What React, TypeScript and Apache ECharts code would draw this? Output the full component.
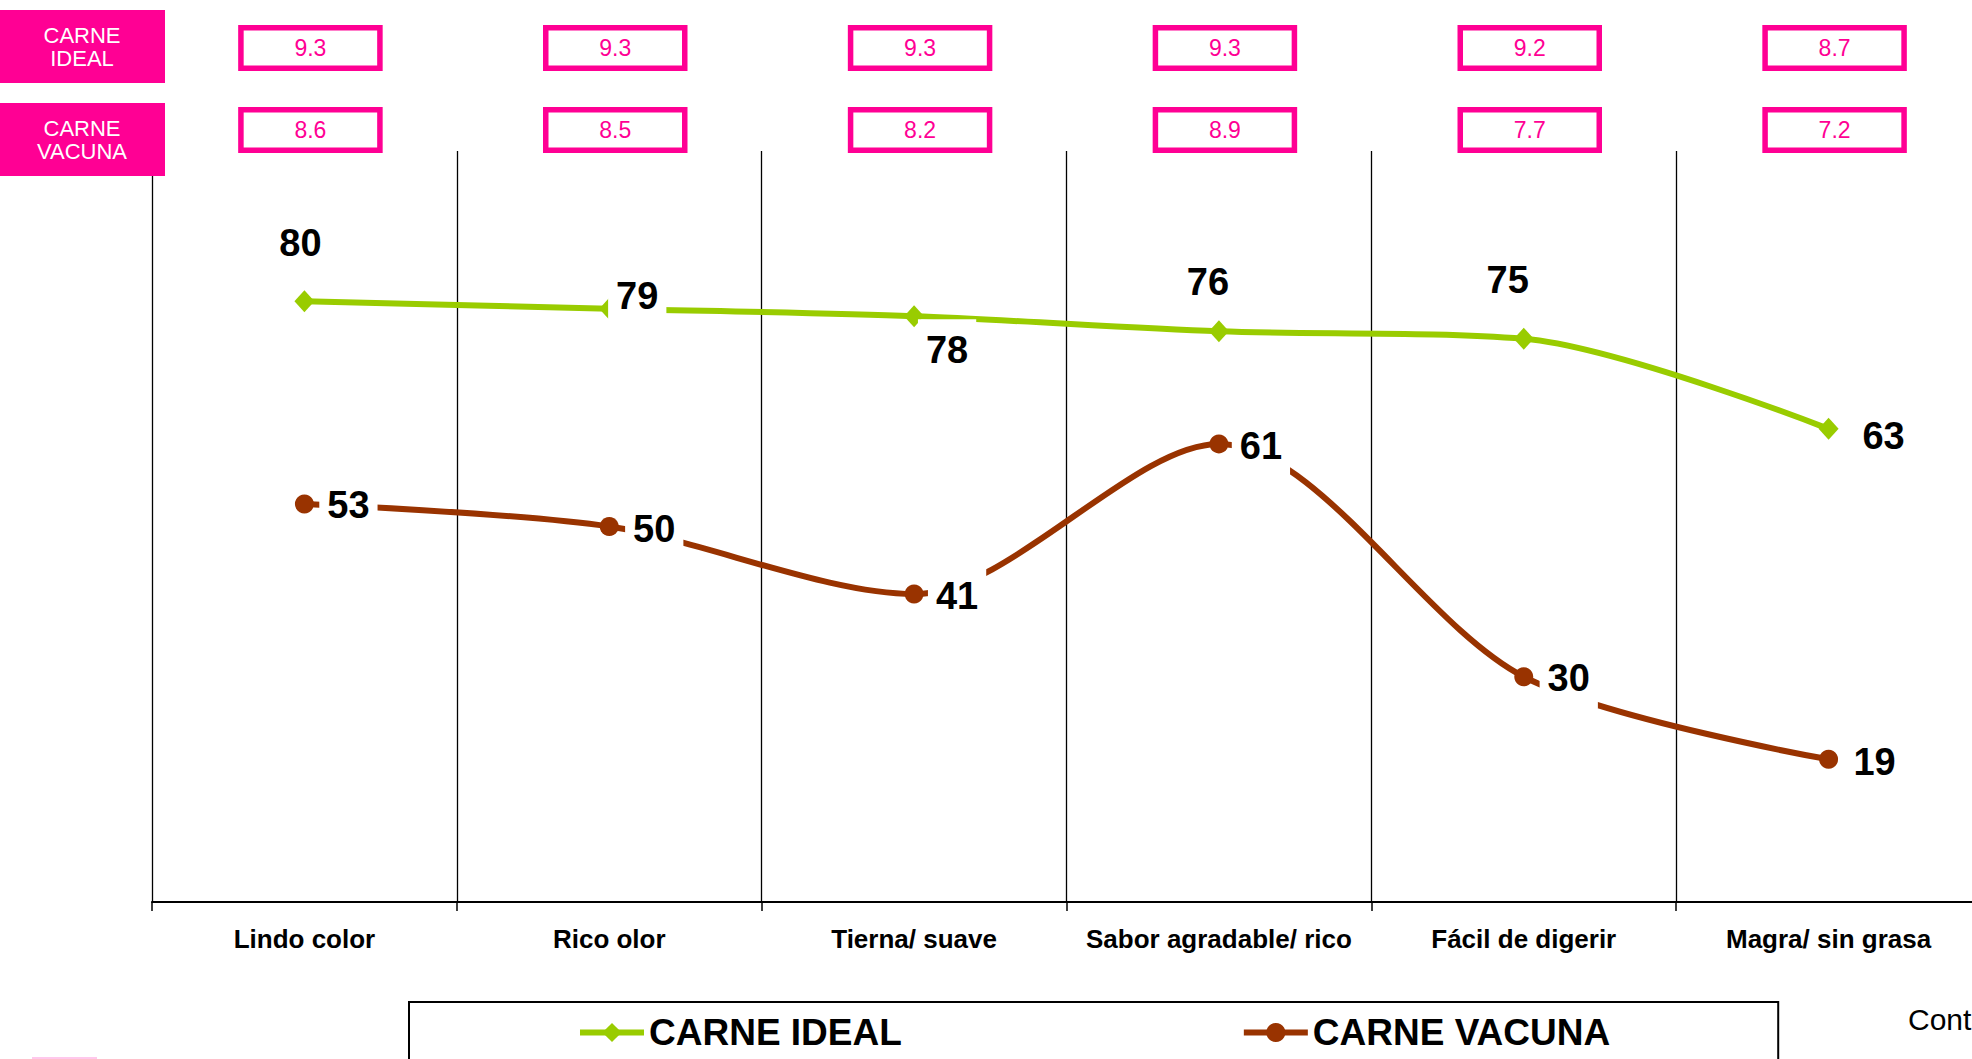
import React, { useEffect, useRef } from "react";
import * as echarts from "echarts";

const categories = ["Lindo color", "Rico olor", "Tierna/ suave", "Sabor agradable/ rico", "Fácil de digerir", "Magra/ sin grasa"];
const idealValues = [80, 79, 78, 76, 75, 63];
const vacunaValues = [53, 50, 41, 61, 30, 19];
const idealScores = ["9.3", "9.3", "9.3", "9.3", "9.2", "8.7"];
const vacunaScores = ["8.6", "8.5", "8.2", "8.9", "7.7", "7.2"];
const seriesNames = ["CARNE IDEAL", "CARNE VACUNA"];

// label placement offsets (styling, relative to each point)
const idealLabelOffsets = [[-4, -58], [28, -13], [33, 34], [-11, -49], [-16, -59], [55, 7]];
const vacunaLabelOffsets = [[44, 1], [45, 2], [43, 2], [42, 2], [45, 1], [46, 3]];

const FONT = "'Liberation Sans', Arial, sans-serif";
const PINK = "#FF0094";
const GREEN = "#99CC00";
const BROWN = "#993300";

export default function App() {
  const ref = useRef<HTMLDivElement>(null);
  useEffect(() => {
    document.body.style.margin = "0";
    const chart = echarts.init(ref.current!, null, { renderer: "svg" });
    const labelBase = {
      show: true,
      position: "inside",
      fontFamily: FONT,
      fontSize: 38,
      fontWeight: "bold",
      color: "#000",
      backgroundColor: "#fff",
      padding: [10, 8],
      lineHeight: 42,
    };
    const option: any = {
      animation: false,
      backgroundColor: "#fff",
      grid: { left: 152, top: 151, width: 1829, height: 751 },
      xAxis: {
        type: "category",
        data: categories,
        boundaryGap: true,
        axisLine: { show: true, lineStyle: { color: "#000", width: 2 } },
        axisTick: { show: true, interval: 0, length: 9, lineStyle: { color: "#000", width: 1.5 } },
        axisLabel: { interval: 0, fontFamily: FONT, fontSize: 26, fontWeight: "bold", color: "#000", margin: 24 },
        splitLine: { show: true, interval: 0, lineStyle: { color: "#000", width: 1.3 } },
      },
      yAxis: {
        type: "value",
        min: 0,
        max: 100,
        show: false,
        splitLine: { show: false },
      },
      legend: {
        left: 409,
        top: 1002,
        padding: [12, 168, 40, 168],
        borderColor: "#000",
        borderWidth: 2,
        itemGap: 339,
        itemWidth: 64,
        itemHeight: 24,
        lineStyle: { width: 6 },
        textStyle: { fontFamily: FONT, fontSize: 37, fontWeight: "bold", color: "#000" },
        data: seriesNames,
      },
      series: [
        {
          name: seriesNames[0],
          type: "line",
          smooth: 0.3,
          symbol: "diamond",
          symbolSize: [20, 22],
          lineStyle: { color: GREEN, width: 6 },
          itemStyle: { color: GREEN },
          label: labelBase,
          data: idealValues.map((v, i) => ({ value: v, label: { offset: idealLabelOffsets[i] } })),
          z: 3,
        },
        {
          name: seriesNames[1],
          type: "line",
          smooth: 0.3,
          symbol: "circle",
          symbolSize: 19,
          lineStyle: { color: BROWN, width: 6 },
          itemStyle: { color: BROWN },
          label: labelBase,
          data: vacunaValues.map((v, i) => ({ value: v, label: { offset: vacunaLabelOffsets[i] } })),
          z: 2,
        },
      ],
    };
    chart.setOption(option);

    const headerBox = (top: number, text: string) => ({
      type: "group",
      children: [
        { type: "rect", shape: { x: 0, y: top, width: 165, height: 73 }, style: { fill: PINK } },
        {
          type: "text",
          x: 82,
          y: top + 36.5,
          style: {
            text,
            fill: "#fff",
            font: `22px ${FONT}`,
            align: "center",
            verticalAlign: "middle",
            lineHeight: 23,
          },
        },
      ],
    });
    const scoreBox = (cx: number, top: number, text: string) => ({
      type: "group",
      children: [
        {
          type: "rect",
          shape: { x: cx - 69.5, y: top + 2.75, width: 139, height: 40.5 },
          style: { fill: "#fff", stroke: PINK, lineWidth: 5.5 },
        },
        {
          type: "text",
          x: cx,
          y: top + 23,
          style: { text, fill: PINK, font: `23px ${FONT}`, align: "center", verticalAlign: "middle" },
        },
      ],
    });
    const graphics: any[] = [headerBox(10, "CARNE\nIDEAL"), headerBox(103, "CARNE\nVACUNA")];
    categories.forEach((c, i) => {
      const cx = (chart.convertToPixel({ xAxisIndex: 0 }, c) as number) + 6;
      graphics.push(scoreBox(cx, 25, idealScores[i]));
      graphics.push(scoreBox(cx, 107, vacunaScores[i]));
    });
    graphics.push({
      type: "text",
      x: 1908,
      y: 1019,
      style: { text: "Cont", fill: "#000", font: `30px ${FONT}`, verticalAlign: "middle" },
    });
    graphics.push({ type: "rect", shape: { x: 32, y: 1057, width: 65, height: 2 }, style: { fill: "#ffc8ec" } });
    chart.setOption({ graphic: graphics });

    return () => chart.dispose();
  }, []);
  return (
    <div style={{ width: 1972, height: 1059, overflow: "hidden", position: "relative" }}>
      <div ref={ref} style={{ width: 2000, height: 1059 }} />
    </div>
  );
}
